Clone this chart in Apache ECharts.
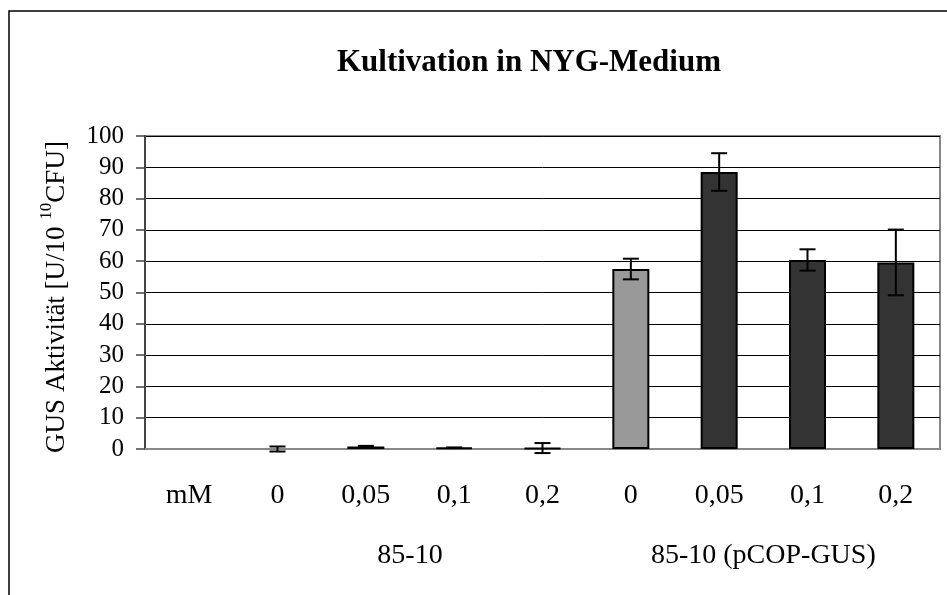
<!DOCTYPE html>
<html>
<head>
<meta charset="utf-8">
<script src="https://cdn.jsdelivr.net/npm/echarts@6/dist/echarts.min.js"></script>
<style>html,body{margin:0;padding:0;background:#fff}#c{width:947px;height:595px}</style>
</head>
<body>
<div id="c"></div>
<script>
const categories = ['mM', '0', '0,05', '0,1', '0,2', '0', '0,05', '0,1', '0,2'];
const values = [null, 0, 0.8, 0.4, 0.3, 57.5, 88.5, 60.4, 59.6];
const errors = [null, 0.8, 0.2, 0.1, 1.6, 3.3, 6.0, 3.4, 10.5];
const groupLabels = ['85-10', '85-10 (pCOP-GUS)'];
const groupPositions = [6, 14]; // on a 19-slot half-step axis
const yTicks = { min: 0, max: 100, interval: 10 };
const titleText = 'Kultivation in NYG-Medium';

const FONT = '"Liberation Serif", "Times New Roman", serif';
const chart = echarts.init(document.getElementById('c'));

const barData = values.map((v, i) => {
  if (v === null) return null;
  const gray = (i === 5);
  return {
    value: v,
    itemStyle: {
      color: gray ? '#999999' : '#333333',
      borderColor: '#000',
      borderWidth: v === 0 ? 0 : 2
    }
  };
});

const errData = [];
values.forEach((v, i) => { if (v !== null && errors[i] !== null) errData.push([i, v, errors[i]]); });

const halfCats = [];
for (let k = 0; k < 19; k++) {
  const gi = groupPositions.indexOf(k);
  halfCats.push(gi >= 0 ? groupLabels[gi] : '');
}

chart.setOption({
  animation: false,
  backgroundColor: '#fff',
  grid: { left: 145, right: 7, top: 136, bottom: 146, show: true, borderColor: '#888', borderWidth: 2, backgroundColor: 'transparent' },
  xAxis: [{
    type: 'category',
    data: categories,
    axisLine: { lineStyle: { color: '#888', width: 2 } },
    axisTick: { show: false },
    axisLabel: { color: '#000', fontFamily: FONT, fontSize: 28, margin: 33, interval: 0 }
  }, {
    type: 'category',
    data: halfCats,
    position: 'bottom',
    boundaryGap: false,
    axisLine: { show: false },
    axisTick: { show: false },
    axisLabel: { color: '#000', fontFamily: FONT, fontSize: 28, margin: 93, interval: 0 }
  }],
  yAxis: {
    type: 'value',
    min: yTicks.min, max: yTicks.max, interval: yTicks.interval,
    axisLine: { show: true, lineStyle: { color: '#444', width: 2 } },
    axisTick: { show: true, length: 9, lineStyle: { color: '#444', width: 1.5 } },
    splitLine: { lineStyle: { color: '#000', width: 1 } },
    axisLabel: { color: '#000', fontFamily: FONT, fontSize: 25, margin: 21 }
  },
  series: [{
    type: 'bar',
    data: barData,
    barWidth: 37,
    xAxisIndex: 0
  }, {
    type: 'custom',
    xAxisIndex: 0,
    data: errData,
    z: 10,
    renderItem: function (params, api) {
      const x = api.value(0), y = api.value(1), e = api.value(2);
      const top = api.coord([x, y + e]);
      const bot = api.coord([x, y - e]);
      const hw = 8;
      const st = { stroke: '#000', lineWidth: 2 };
      return {
        type: 'group',
        children: [
          { type: 'line', shape: { x1: top[0], y1: top[1], x2: bot[0], y2: bot[1] }, style: st },
          { type: 'line', shape: { x1: top[0] - hw, y1: top[1], x2: top[0] + hw, y2: top[1] }, style: st },
          { type: 'line', shape: { x1: bot[0] - hw, y1: bot[1], x2: bot[0] + hw, y2: bot[1] }, style: st }
        ]
      };
    }
  }],
  graphic: [
    { type: 'rect', shape: { x: 9, y: 11, width: 1200, height: 1200 }, style: { fill: 'none', stroke: '#000', lineWidth: 1.5 }, z: 100, silent: true },
    { type: 'text', x: 529, y: 63, style: { text: titleText, font: 'bold 31px ' + FONT, fill: '#000', align: 'center', verticalAlign: 'middle' } },
    { type: 'text', x: 54, y: 297, rotation: Math.PI / 2,
      style: {
        text: '{a|GUS Aktivität [U/10 }{s|10}{a|CFU]}',
        align: 'center', verticalAlign: 'middle', fill: '#000',
        rich: {
          a: { fontFamily: FONT, fontSize: 27, lineHeight: 32, verticalAlign: 'bottom', fill: '#000' },
          s: { fontFamily: FONT, fontSize: 17, lineHeight: 32, verticalAlign: 'top', fill: '#000' }
        }
      }
    }
  ]
});
</script>
</body>
</html>
